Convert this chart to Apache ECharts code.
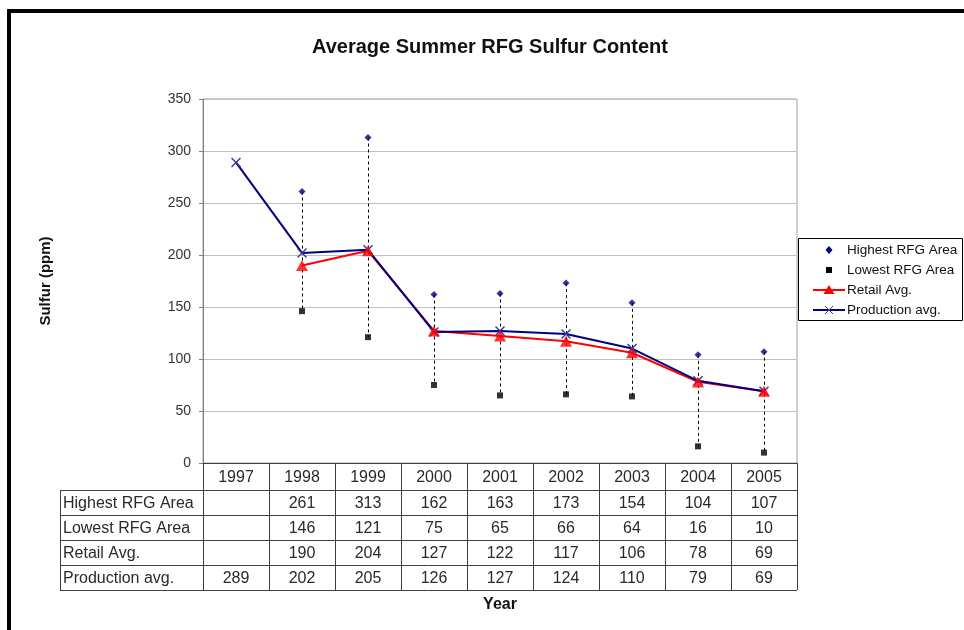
<!DOCTYPE html>
<html><head><meta charset="utf-8">
<script src="https://cdn.jsdelivr.net/npm/echarts@6/dist/echarts.min.js"></script>
<style>html,body{margin:0;padding:0;background:#fff}#c{width:964px;height:630px}</style>
</head><body><div id="c"></div>
<script>
// ---- data ----
const years = ['1997','1998','1999','2000','2001','2002','2003','2004','2005'];
const highest = [null, 261, 313, 162, 163, 173, 154, 104, 107];
const lowest = [null, 146, 121, 75, 65, 66, 64, 16, 10];
const retail = [null, 190, 204, 127, 122, 117, 106, 78, 69];
const production = [289, 202, 205, 126, 127, 124, 110, 79, 69];
const seriesNames = ['Highest RFG Area', 'Lowest RFG Area', 'Retail Avg.', 'Production avg.'];
const yMin = 0, yMax = 350, yStep = 50;

// ---- styling ----
const FONT = "'Liberation Sans', Arial, sans-serif";
const NAVY = '#000080', RED = '#ff0000';
const xPath = 'path://M0,1L1,0L5,4L9,0L10,1L6,5L10,9L9,10L5,6L1,10L0,9L4,5Z';

const hiloData = highest.map((h, i) => (h == null || lowest[i] == null) ? null : [i, h, lowest[i]]).filter(d => d);

const chart = echarts.init(document.getElementById('c'), null, {renderer: 'canvas'});
const option = {
  animation: false,
  backgroundColor: '#ffffff',
  textStyle: {fontFamily: FONT},
  grid: {left: 203, right: 167, top: 99, bottom: 167, show: true, borderColor: '#a0a0a0', borderWidth: 1, backgroundColor: 'transparent'},
  xAxis: {
    type: 'category', data: years, boundaryGap: true,
    name: 'Year', nameLocation: 'middle', nameGap: 134,
    nameTextStyle: {fontFamily: FONT, fontSize: 16, fontWeight: 'bold', color: '#111'},
    axisLine: {lineStyle: {color: '#404040', width: 1}},
    axisTick: {show: false}, axisLabel: {show: false}, splitLine: {show: false}
  },
  yAxis: {
    type: 'value', min: yMin, max: yMax, interval: yStep,
    name: 'Sulfur (ppm)', nameLocation: 'middle', nameGap: 150, nameRotate: 90,
    nameTextStyle: {fontFamily: FONT, fontSize: 15, fontWeight: 'bold', color: '#111'},
    axisLine: {show: true, lineStyle: {color: '#808080', width: 1}},
    axisTick: {show: true, length: 4, lineStyle: {color: '#808080'}},
    axisLabel: {fontFamily: FONT, fontSize: 14, color: '#333', margin: 12},
    splitLine: {lineStyle: {color: '#c0c0c0', width: 1}}
  },
  series: [
    {
      name: 'hilo', type: 'custom', z: 1, data: hiloData, encode: {x: 0, y: [1, 2]},
      renderItem: function (params, api) {
        const x = api.value(0);
        const p1 = api.coord([x, api.value(1)]);
        const p2 = api.coord([x, api.value(2)]);
        const cx = Math.round(p1[0]) + 0.5;
        return {type: 'line', shape: {x1: cx, y1: p1[1], x2: cx, y2: p2[1]},
          style: {stroke: '#000', lineWidth: 1, lineDash: [3, 3]}};
      }
    },
    {
      name: seriesNames[2], type: 'line', z: 2, data: retail, symbol: 'triangle', showSymbol: false,
      lineStyle: {color: RED, width: 2}, itemStyle: {color: RED}, connectNulls: false
    },
    {
      name: seriesNames[3], type: 'line', z: 3, data: production, symbol: xPath, symbolSize: 10,
      lineStyle: {color: NAVY, width: 2}, itemStyle: {color: '#3a3a8a'}
    },
    {
      name: seriesNames[0], type: 'scatter', z: 4, data: highest, symbol: 'diamond', symbolSize: 7,
      itemStyle: {color: NAVY}
    },
    {
      name: seriesNames[1], type: 'scatter', z: 4, data: lowest, symbol: 'rect', symbolSize: 6,
      itemStyle: {color: '#000'}
    },
    {
      name: 'retailMarkers', type: 'scatter', z: 5, data: retail, symbol: 'triangle', symbolSize: [12, 11],
      itemStyle: {color: RED}
    }
  ]
};
chart.setOption(option);

// ---- frame, title, legend and data table (positioned from the chart's own axes) ----
function buildGraphics() {
  const els = [];
  // outer frame
  els.push({type: 'rect', shape: {x: 9, y: 11, width: 1000, height: 700}, style: {fill: null, stroke: '#000', lineWidth: 4}, silent: true});
  // title
  els.push({type: 'text', x: 490, y: 47, style: {text: 'Average Summer RFG Sulfur Content', font: 'bold 20px ' + FONT, fill: '#111', textAlign: 'center', textVerticalAlign: 'middle'}});

  // legend box
  const lx = 798, ly = 238, lw = 164, lh = 82;
  els.push({type: 'rect', shape: {x: lx + 0.5, y: ly + 0.5, width: lw, height: lh}, style: {fill: '#fff', stroke: '#000', lineWidth: 1}, z: 10});
  const rowsY = [250, 270, 290, 310];
  const mx = 829, tx = 847;
  els.push({type: 'polygon', shape: {points: [[mx, rowsY[0] - 4], [mx + 3.5, rowsY[0]], [mx, rowsY[0] + 4], [mx - 3.5, rowsY[0]]]}, style: {fill: NAVY}, z: 11});
  els.push({type: 'rect', shape: {x: mx - 3, y: rowsY[1] - 3, width: 6, height: 6}, style: {fill: '#000'}, z: 11});
  els.push({type: 'line', shape: {x1: 813, y1: rowsY[2], x2: 845, y2: rowsY[2]}, style: {stroke: RED, lineWidth: 2}, z: 11});
  els.push({type: 'polygon', shape: {points: [[mx, rowsY[2] - 5], [mx + 5.5, rowsY[2] + 4], [mx - 5.5, rowsY[2] + 4]]}, style: {fill: RED}, z: 11});
  els.push({type: 'line', shape: {x1: 813, y1: rowsY[3], x2: 845, y2: rowsY[3]}, style: {stroke: NAVY, lineWidth: 2}, z: 11});
  els.push({type: 'line', shape: {x1: mx - 4, y1: rowsY[3] - 4, x2: mx + 4, y2: rowsY[3] + 4}, style: {stroke: '#3a3a8a', lineWidth: 1}, z: 12});
  els.push({type: 'line', shape: {x1: mx + 4, y1: rowsY[3] - 4, x2: mx - 4, y2: rowsY[3] + 4}, style: {stroke: '#3a3a8a', lineWidth: 1}, z: 12});
  seriesNames.forEach((n, k) => {
    els.push({type: 'text', x: tx, y: rowsY[k], style: {text: n, font: '13.5px ' + FONT, fill: '#111', textVerticalAlign: 'middle'}, z: 11});
  });

  // data table
  const c0 = chart.convertToPixel({xAxisIndex: 0}, 0);
  const c1 = chart.convertToPixel({xAxisIndex: 0}, 1);
  const step = c1 - c0;
  const tLeft = c0 - step / 2;
  const tRight = tLeft + step * years.length;
  const yTop = chart.convertToPixel({yAxisIndex: 0}, yMin);
  const headH = 27, rowH = 25, labelLeft = 60;
  const rows = [highest, lowest, retail, production];
  const yBottom = yTop + headH + rowH * rows.length;
  const LC = '#404040';
  const TF = '16px ' + FONT, TC = '#2a2a2a';
  for (let k = 0; k <= rows.length; k++) {
    const yy = Math.round(yTop + headH + rowH * k) + 0.5;
    els.push({type: 'line', shape: {x1: labelLeft, y1: yy, x2: tRight, y2: yy}, style: {stroke: LC, lineWidth: 1}});
  }
  for (let j = 0; j <= years.length; j++) {
    const xx = Math.round(tLeft + step * j) + 0.5;
    els.push({type: 'line', shape: {x1: xx, y1: yTop, x2: xx, y2: yBottom}, style: {stroke: LC, lineWidth: 1}});
  }
  els.push({type: 'line', shape: {x1: labelLeft + 0.5, y1: yTop + headH, x2: labelLeft + 0.5, y2: yBottom}, style: {stroke: LC, lineWidth: 1}});
  years.forEach((yv, j) => {
    els.push({type: 'text', x: c0 + step * j, y: yTop + headH / 2 + 1, style: {text: yv, font: TF, fill: TC, textAlign: 'center', textVerticalAlign: 'middle'}});
  });
  rows.forEach((arr, k) => {
    const cy = yTop + headH + rowH * k + rowH / 2 + 1;
    els.push({type: 'text', x: labelLeft + 3, y: cy, style: {text: seriesNames[k], font: TF, fill: TC, textVerticalAlign: 'middle'}});
    arr.forEach((v, j) => {
      if (v == null) return;
      els.push({type: 'text', x: c0 + step * j, y: cy, style: {text: String(v), font: TF, fill: TC, textAlign: 'center', textVerticalAlign: 'middle'}});
    });
  });
  chart.setOption({graphic: {elements: els}});
}
buildGraphics();
</script>
</body></html>
